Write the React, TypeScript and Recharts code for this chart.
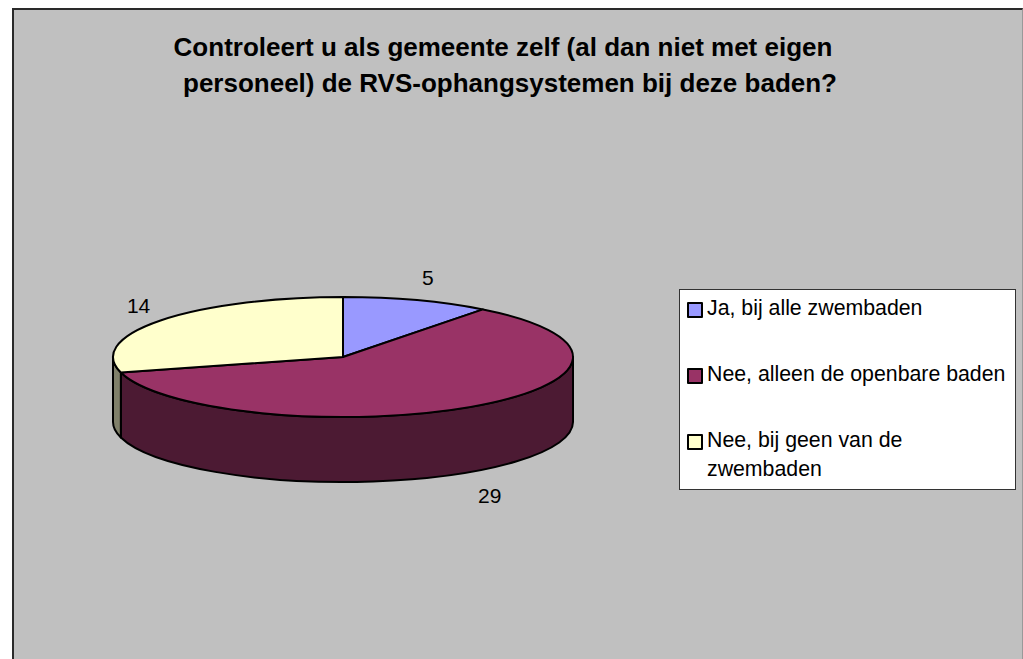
// 3D look pie: Recharts computes the angles, custom shape flattens them to an ellipse
import { PieChart, Pie, Legend } from "recharts";

const categories = [
  "Ja, bij alle zwembaden",
  "Nee, alleen de openbare baden",
  "Nee, bij geen van de zwembaden",
];
const counts = [5, 29, 14];
const topColors = ["#9999FF", "#993366", "#FFFFCC"];
const sideColors = ["#4C4C80", "#4C1A33", "#80806A"];
const titleLines = [
  "Controleert u als gemeente zelf (al dan niet met eigen",
  "personeel) de RVS-ophangsystemen bij deze baden?",
];

const tableData = categories.map((name, i) => ({
  name,
  value: counts[i],
  fill: topColors[i],
  side: sideColors[i],
}));

const CX = 343;
const CY = 357;
const RX = 230;
const TILT = 60 / 230;
const DEPTH = 65;
const FONT = '"Liberation Sans", Arial, sans-serif';

const rad = (a: number) => (a * Math.PI) / 180;
const px = (cx: number, r: number, a: number) => cx + r * Math.cos(rad(a));
const py = (cy: number, r: number, a: number) => cy - r * TILT * Math.sin(rad(a));

const FlatSector = (props: any) => {
  const { cx, cy, outerRadius: r, startAngle, endAngle, fill, payload } = props;
  const hi = Math.max(startAngle, endAngle);
  const lo = Math.min(startAngle, endAngle);
  const ry = r * TILT;
  const large = hi - lo > 180 ? 1 : 0;
  const top = `M${cx},${cy} L${px(cx, r, hi)},${py(cy, r, hi)} A${r},${ry} 0 ${large} 1 ${px(cx, r, lo)},${py(cy, r, lo)} Z`;

  // only the part of the rim facing the viewer gets a wall
  const wallHi = Math.min(hi, 0);
  const wallLo = Math.max(lo, -180);
  const side = payload?.side ?? props.side;
  let wall = null;
  if (wallHi > wallLo) {
    const x1 = px(cx, r, wallHi);
    const y1 = py(cy, r, wallHi);
    const x2 = px(cx, r, wallLo);
    const y2 = py(cy, r, wallLo);
    wall = (
      <path
        d={`M${x1},${y1} A${r},${ry} 0 0 1 ${x2},${y2} L${x2},${y2 + DEPTH} A${r},${ry} 0 0 0 ${x1},${y1 + DEPTH} Z`}
        fill={side}
        stroke="#000"
        strokeWidth={2}
        strokeLinejoin="round"
      />
    );
  }
  return (
    <g>
      {wall}
      <path d={top} fill={fill} stroke="#000" strokeWidth={2} strokeLinejoin="round" />
    </g>
  );
};

const renderLabel = (props: any) => {
  const { cx, cy, midAngle, value } = props;
  const below = Math.sin(rad(midAngle)) < 0;
  const x = cx + 264 * Math.cos(rad(midAngle));
  const y = cy - 84 * Math.sin(rad(midAngle)) + (below ? DEPTH + 4 : 0);
  return (
    <text x={x + (below ? 0 : Math.cos(rad(midAngle)) < 0 ? 5 : 0)} y={y} textAnchor="middle" dominantBaseline="central" fontFamily={FONT} fontSize={21} fill="#000">
      {value}
    </text>
  );
};

const LegendBox = ({ payload }: any) => (
  <div style={{ fontFamily: FONT, fontSize: 21.3, lineHeight: "29px", color: "#000", paddingTop: 4, textAlign: "left" }}>
    {(payload ?? []).map((item: any, i: number) => (
      <div key={i} style={{ position: "relative", height: i === 2 ? 58 : 66, paddingLeft: 27, paddingRight: 4 }}>
        <span
          style={{
            position: "absolute",
            left: 7,
            top: 8,
            width: 12,
            height: 12,
            background: topColors[i],
            border: "2px solid #000",
            borderRadius: 1,
          }}
        />
        {item.value}
      </div>
    ))}
  </div>
);

export default function App() {
  return (
    <div style={{ position: "absolute", left: 0, top: 0, width: 1023, height: 659, background: "#fff", overflow: "hidden" }}>
      <div
        style={{
          position: "absolute",
          left: 12,
          top: 8,
          width: 1008,
          height: 660,
          background: "#C0C0C0",
          borderLeft: "2px solid #2a2a2a",
          borderTop: "2px solid #2a2a2a",
          borderRight: "1px solid #999",
        }}
      />
      <div
        style={{
          position: "absolute",
          left: 0,
          top: 29,
          width: 1006,
          textAlign: "center",
          fontFamily: FONT,
          fontWeight: "bold",
          fontSize: 26,
          lineHeight: "36px",
          color: "#000",
        }}
      >
        {titleLines.map((line, i) => (
          <div key={i} style={{ marginLeft: i === 1 ? 14 : 0 }}>
            {line}
          </div>
        ))}
      </div>
      <div style={{ position: "absolute", left: 0, top: 0 }}>
        <PieChart width={1023} height={659} margin={{ top: 0, right: 0, bottom: 0, left: 0 }}>
          <Pie
            data={tableData}
            dataKey="value"
            nameKey="name"
            cx={CX}
            cy={CY}
            outerRadius={RX}
            startAngle={90}
            endAngle={-270}
            paddingAngle={0}
            shape={FlatSector}
            label={renderLabel}
            labelLine={false}
            isAnimationActive={false}
          />
          <Legend
            content={LegendBox}
            wrapperStyle={{
              position: "absolute",
              left: 679,
              top: 289,
              width: 335,
              height: 199,
              background: "#fff",
              border: "1px solid #333",
              boxSizing: "content-box",
            }}
          />
        </PieChart>
      </div>
    </div>
  );
}
